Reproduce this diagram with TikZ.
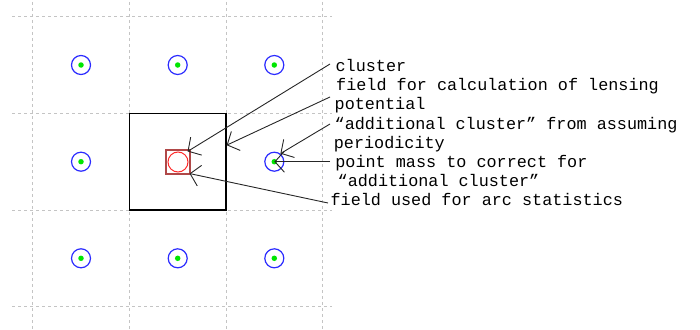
\documentclass[tikz,border=0pt]{standalone}
\usepackage{fontspec}
\setmonofont{Liberation Mono}
\usetikzlibrary{arrows.meta}
\definecolor{haloblue}{HTML}{2B2BFF}
\definecolor{coregreen}{HTML}{00E600}
\definecolor{boxred}{HTML}{B04848}
\definecolor{ringred}{HTML}{FF2A2A}
\definecolor{gridgray}{HTML}{C4C4C4}
\begin{document}
\begin{tikzpicture}[x=1pt,y=-1pt,
  gridline/.style={draw=gridgray, line width=0.9pt, dash pattern=on 3pt off 3pt},
  halo/.style={circle, draw=haloblue, line width=1.2pt, minimum size=19pt, inner sep=0pt},
  core/.style={circle, fill=coregreen, minimum size=5.5pt, inner sep=0pt},
  leader/.style={draw=black!85, line width=0.9pt, -{Straight Barb[length=9.5pt,width=21pt]}},
  lbl/.style={anchor=base west, inner sep=0pt, font=\ttfamily\fontsize{16.8}{20}\selectfont}]
\useasboundingbox (0,0) rectangle (700,329);

% periodic grid of simulation fields
\foreach \gx in {32.7,129.3,226,322.7}
  \draw[gridline] (\gx,2) -- (\gx,329);
\foreach \gy in {16.7,113.3,210,306.7}
  \draw[gridline] (12,\gy) -- (332,\gy);

% periodic copies of the cluster (the central one is drawn separately)
\foreach \i/\cx in {1/81,2/177.7,3/274.3}
  \foreach \j/\cy in {1/65,2/161.7,3/258.3}{
    \ifnum\i\j=22\else
      \node[halo] (c\i\j) at (\cx,\cy) {};
      \node[core] (d\i\j) at (\cx,\cy) {};
    \fi}

% central field and the arc-statistics field
\node[draw=black, line width=1.2pt, minimum size=96.7pt, inner sep=0pt] (big) at (177.7,161.7) {};
\node[draw=boxred, line width=1.1pt, minimum size=24pt, inner sep=0pt] (rsq) at (178,162) {};
\node[circle, draw=ringred, line width=1pt, minimum size=20pt, inner sep=0pt] (rc) at (178,162) {};

% labels
\node[lbl] (t1) at (335.4,71.5) {cluster};
\node[lbl] (t2) at (336,90.7) {field for calculation of lensing};
\node[lbl] (t3) at (334.5,109.9) {potential};
\node[lbl] (t4) at (334.5,129.1) {“additional cluster” from assuming};
\node[lbl] (t5) at (333.7,148.3) {periodicity};
\node[lbl] (t6) at (335.2,167.5) {point mass to correct for};
\node[lbl] (t7) at (337.5,186.7) {“additional cluster”};
\node[lbl] (t8) at (330.4,205.9) {field used for arc statistics};

% free ends of the leaders
\coordinate (e1) at (330,64);
\coordinate (e2) at (330,97);
\coordinate (e3) at (330,124);
\coordinate (e4) at (330,161.7);
\coordinate (e5) at (328,203);

% leaders
\draw[leader] (e1) -- ([xshift=-3pt,yshift=-2pt]rsq.north east);
\draw[leader] (e2) -- ([yshift=16.5pt]big.east);
\draw[leader] (e3) -- (c32.53);
\draw[leader] (e4) -- (d32.center);
\draw[leader] (e5) -- ([xshift=-1pt,yshift=1pt]rsq.south east);
\end{tikzpicture}
\end{document}
